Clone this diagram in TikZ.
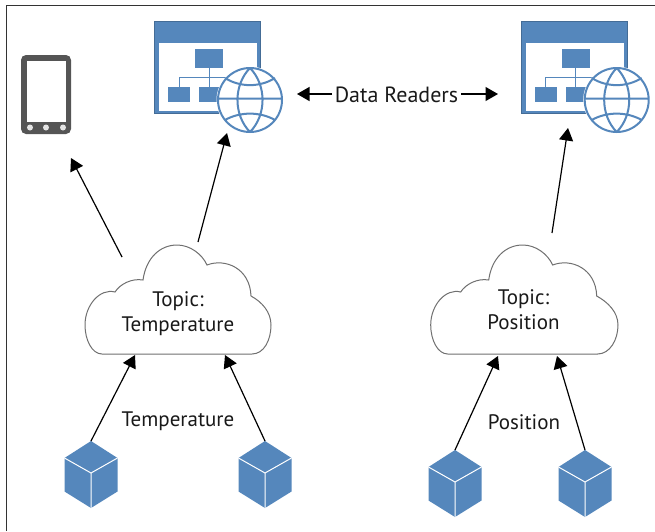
\documentclass[tikz,border=0pt]{standalone}
\usepackage{fontspec}
\setmainfont{PT Sans}
\usetikzlibrary{arrows.meta}
\definecolor{bl}{HTML}{5587BC}
\definecolor{gr}{HTML}{555555}
\definecolor{cl}{HTML}{707070}
\tikzset{
  arr/.style={black,line width=1.2pt,-{Triangle[length=12.5pt,width=14pt]}},
  txt/.style={font=\fontsize{21}{25}\selectfont,align=center,text=black!90,inner sep=0pt},
  cloudline/.style={draw=cl,line width=1pt,fill=white},
  pics/cube/.style={code={
    \fill[bl] (0,-32)--(26.5,-15)--(26.5,18.5)--(0,35)--(-26.5,18.5)--(-26.5,-15)--cycle;
    \draw[white,line width=1pt] (-26.5,-15)--(0,0)--(26.5,-15) (0,0)--(0,35);
  }},
  pics/webapp/.style={code={
    \fill[bl] (154,21) rectangle (261,114);
    \draw[bl!80!black,line width=.7pt] (154.5,21.5) rectangle (260.5,113.5);
    \fill[white] (159,43) rectangle (257,110.5);
    \fill[bl] (195,48.5) rectangle (223,68);
    \fill[bl] (168,87) rectangle (190,102);
    \fill[bl] (199,87) rectangle (221,102);
    \draw[bl,line width=.8pt] (209,68)--(209,87) (179,87)--(179,77)--(240,77);
    \fill[white] (250,100) circle (33.5);
    \draw[bl,line width=2pt]
      (250,100) circle (32)
      (218,98.5)--(282,98.5)
      (250,68) .. controls (233.3,85) and (233.3,115) .. (250,132)
      (250,68) .. controls (266.7,85) and (266.7,115) .. (250,132)
      (225,78) .. controls (240,87.5) and (260,87.5) .. (275,78)
      (225,120) .. controls (240,111.5) and (260,111.5) .. (275,120);
  }},
  pics/cloudshape/.style={code={
    \path[cloudline] (102,354)
      .. controls (92,354) and (85,340) .. (85,325)
      .. controls (85,305) and (100,288) .. (115,292)
      .. controls (120,284) and (132,278) .. (143,280)
      .. controls (146,258) and (160,245) .. (177,245)
      .. controls (190,245) and (202,254) .. (207,265)
      .. controls (225,258) and (250,268) .. (251,296)
      .. controls (262,302) and (#1,312) .. (#1,325)
      .. controls (#1,340) and (264,354) .. (252,354)
      -- cycle;
  }}
}
\begin{document}
\begin{tikzpicture}[x=1pt,y=-1pt]
\useasboundingbox (0,0) rectangle (655,531);
\draw[black!80,line width=1.3pt] (6.3,531)--(6.3,5.5)--(655,5.5);
% phone
\fill[gr,rounded corners=5pt] (21,55) rectangle (71,134);
\fill[white] (27,61) rectangle (66,122);
\foreach \x in {30,46,63}{\fill[black!10] (\x,127.5) circle (3);}
\coordinate (phone) at (71,158);
% web apps
\pic at (0,0) {webapp};
\pic at (366.7,0) {webapp};
\coordinate (webA) at (227,133);
\coordinate (webB) at (568,128);
% clouds
\pic at (0,0) {cloudshape=271};
\pic at (345.7,0) {cloudshape=272.3};
\node[txt] (topicA) at (178,313.5) {Topic:\\Temperature};
\node[txt] (topicB) at (523.5,310) {Topic:\\Position};
\coordinate (cAout1) at (122,257);
\coordinate (cAout2) at (198,242);
\coordinate (cBout) at (552,233);
\coordinate (cAin1) at (135,355);
\coordinate (cAin2) at (225,355);
\coordinate (cBin1) at (498,356);
\coordinate (cBin2) at (557,356);
% cubes
\pic at (91,473) {cube};
\pic at (265,473) {cube};
\pic at (455,482) {cube};
\pic at (585,482) {cube};
\coordinate (cube1) at (91,441);
\coordinate (cube2) at (265,441);
\coordinate (cube3) at (455,450);
\coordinate (cube4) at (585,450);
% labels
\node[txt,font=\fontsize{22}{25}\selectfont] (dr) at (396.5,95) {Data Readers};
\node[txt] (lt) at (178,421) {Temperature};
\node[txt] (lp) at (524,422) {Position};
\coordinate (drL) at (297,94);
\coordinate (drR) at (498,94);
\coordinate (drLs) at (332,94);
\coordinate (drRs) at (461,94);
% connectors
\draw[arr] (cAout1)--(phone);
\draw[arr] (cAout2)--(webA);
\draw[arr] (cBout)--(webB);
\draw[arr] (cube1)--(cAin1);
\draw[arr] (cube2)--(cAin2);
\draw[arr] (cube3)--(cBin1);
\draw[arr] (cube4)--(cBin2);
\draw[arr] (drLs)--(drL);
\draw[arr] (drRs)--(drR);
\end{tikzpicture}
\end{document}
